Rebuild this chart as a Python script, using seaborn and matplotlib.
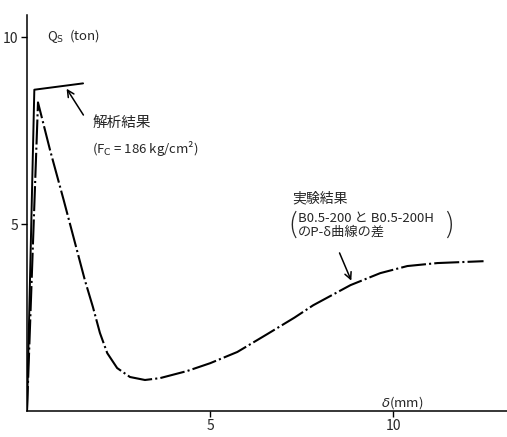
#!/usr/bin/env python3
# Qs - delta curve: analysis vs. experiment difference

import numpy as np
import pandas as pd
import seaborn as sns
import matplotlib
matplotlib.use("Agg")
import matplotlib.pyplot as plt

#---------------------------------------------------------
# DATA
#---------------------------------------------------------
ana_x = [0.0, 0.2, 1.53]
ana_y = [0.0, 8.6, 8.77]

exp_x = [0.0, 0.3, 0.63, 1.0, 1.58, 1.80, 1.99, 2.19, 2.46, 2.81, 3.22, 3.63,
         4.37, 5.0, 5.74, 6.56, 7.3, 7.81, 8.83, 9.64, 10.38, 11.2, 12.46]
exp_y = [0.0, 8.26, 6.98, 5.65, 3.50, 2.78, 2.09, 1.55, 1.15, 0.91, 0.83, 0.88,
         1.07, 1.28, 1.58, 2.06, 2.50, 2.83, 3.37, 3.69, 3.88, 3.96, 4.01]

x_ticks = [5, 10]
y_ticks = [5, 10]

#---------------------------------------------------------
# PLOT
#---------------------------------------------------------
sns.set_theme(style="white")
plt.rcParams['font.family'] = ['Noto Sans CJK JP', 'DejaVu Sans']
plt.rcParams['mathtext.fontset'] = 'dejavusans'

fig = plt.figure(figsize=(5.07, 4.37), dpi=100)
ax = fig.add_axes([27 / 507, 26 / 437, 480 / 507, 396 / 437])

df_ana = pd.DataFrame({'x': ana_x, 'y': ana_y})
df_exp = pd.DataFrame({'x': exp_x, 'y': exp_y})

sns.lineplot(data=df_ana, x='x', y='y', sort=False, color='black',
             linewidth=1.4, ax=ax)
sns.lineplot(data=df_exp, x='x', y='y', sort=False, color='black',
             linewidth=1.5, linestyle=(0, (12, 1.5, 1, 1.5)), ax=ax)

ax.set_xlim(0, 13.1)
ax.set_ylim(0, 10.6)
ax.set_xlabel('')
ax.set_ylabel('')
ax.set_xticks(x_ticks)
ax.set_yticks(y_ticks)
ax.tick_params(axis='both', direction='out', length=4, width=1.0,
               color='black', labelsize=10, pad=2, bottom=True, left=True)
for s in ['top', 'right']:
    ax.spines[s].set_visible(False)
for s in ['left', 'bottom']:
    ax.spines[s].set_color('black')
    ax.spines[s].set_linewidth(1.1)

# axis labels inside
ax.text(0.55, 10.03, r'Q$_\mathrm{S}$  (ton)', fontsize=9.5, va='center', ha='left')
ax.text(9.67, 0.24, r'$\delta$(mm)', fontsize=9.5, va='center', ha='left')

# analysis annotation
ax.text(1.78, 7.70, '解析結果', fontsize=10.5, va='center', ha='left')
ax.text(1.78, 7.03, r'(F$_\mathrm{C}$ = 186 kg/cm²)', fontsize=9.5, va='center', ha='left')
ax.annotate('', xy=(1.04, 8.69), xytext=(1.58, 7.86),
            arrowprops=dict(arrowstyle='->', color='black', lw=1.1))

# experiment annotation
ax.text(7.24, 5.70, '実験結果', fontsize=10, va='center', ha='left')
ax.text(7.40, 5.16, 'B0.5-200 と B0.5-200H', fontsize=9.5, va='center', ha='left')
ax.text(7.40, 4.79, 'のP-δ曲線の差', fontsize=9.5, va='center', ha='left')
ax.text(7.13, 5.0, '(', fontsize=20, va='center', ha='left', fontweight='light')
ax.text(11.40, 5.0, ')', fontsize=20, va='center', ha='left', fontweight='light')
ax.annotate('', xy=(8.88, 3.42), xytext=(8.50, 4.30),
            arrowprops=dict(arrowstyle='->', color='black', lw=1.1))

fig.savefig('out.png', dpi=100)
